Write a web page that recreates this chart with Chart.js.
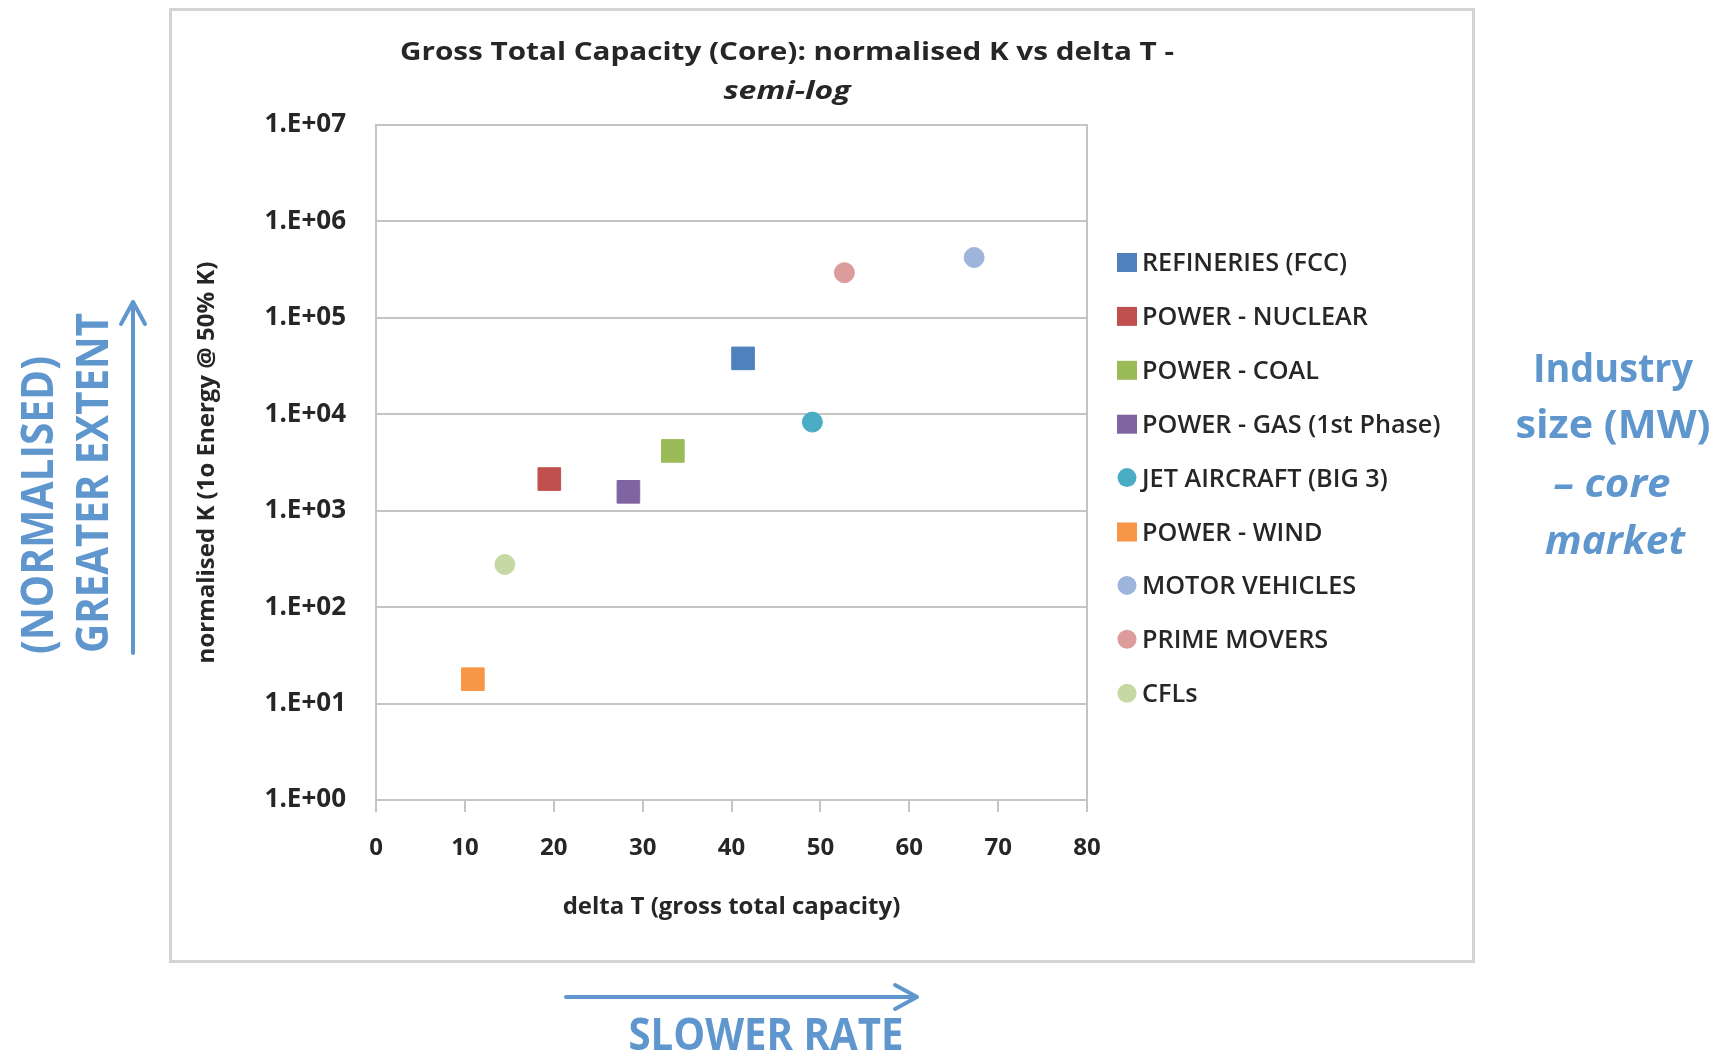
<!DOCTYPE html>
<html>
<head>
<meta charset="utf-8">
<title>Gross Total Capacity (Core): normalised K vs delta T - semi-log</title>
<script src="https://cdn.jsdelivr.net/npm/chart.js@4.4.1/dist/chart.umd.min.js"></script>
<style>
  html, body { margin: 0; padding: 0; background: #fff; }
  #chart-scatter { display: block; }
</style>
</head>
<body>
<canvas id="chart-scatter" width="1717" height="1053"></canvas>
<script>
// Chart data
const seriesNames = [
  "REFINERIES (FCC)",
  "POWER - NUCLEAR",
  "POWER - COAL",
  "POWER - GAS (1st Phase)",
  "JET AIRCRAFT (BIG 3)",
  "POWER - WIND",
  "MOTOR VEHICLES",
  "PRIME MOVERS",
  "CFLs",
];
const deltaT = [41.3, 19.5, 33.4, 28.4, 49.1, 10.9, 67.3, 52.7, 14.5];
const normK = [38000, 2130, 4170, 1570, 8300, 17.9, 423000, 294000, 277];
const markerShapes = ["rect", "rect", "rect", "rect", "circle", "rect", "circle", "circle", "circle"];
const markerColors = ["#4f81bd", "#c0504d", "#9bbb59", "#8064a2", "#4bacc6", "#f79646", "#9db5da", "#dc9c9b", "#c5d9a5"];

const yTickValues = [1, 10, 100, 1e3, 1e4, 1e5, 1e6, 1e7];
const yTickLabels = ["1.E+00", "1.E+01", "1.E+02", "1.E+03", "1.E+04", "1.E+05", "1.E+06", "1.E+07"];
const xTickValues = [0, 10, 20, 30, 40, 50, 60, 70, 80];
const xTickLabels = ["0", "10", "20", "30", "40", "50", "60", "70", "80"];

const FONT = "'Open Sans', 'DejaVu Sans', sans-serif";
const BLUE = "#5e96cd";
const TEXT = "#262626";
const GRID = "#c4c4c4";

// text squeezed to a given width (the original uses a narrow font)
function fitText(ctx, text, x, y, width, font, color, angle) {
  ctx.save();
  ctx.font = font;
  ctx.fillStyle = color;
  ctx.textAlign = "center";
  ctx.textBaseline = "alphabetic";
  ctx.translate(x, y);
  if (angle) ctx.rotate(angle);
  ctx.scale(width / ctx.measureText(text).width, 1);
  ctx.fillText(text, 0, 0);
  ctx.restore();
}

function arrow(ctx, x1, y1, x2, y2) {
  const a = Math.atan2(y2 - y1, x2 - x1);
  const head = 25;
  ctx.save();
  ctx.strokeStyle = BLUE;
  ctx.lineWidth = 4;
  ctx.lineCap = "round";
  ctx.lineJoin = "round";
  ctx.beginPath();
  ctx.moveTo(x1, y1);
  ctx.lineTo(x2, y2);
  ctx.moveTo(x2 - head * Math.cos(a - 0.5), y2 - head * Math.sin(a - 0.5));
  ctx.lineTo(x2, y2);
  ctx.lineTo(x2 - head * Math.cos(a + 0.5), y2 - head * Math.sin(a + 0.5));
  ctx.stroke();
  ctx.restore();
}

// frame, titles, notes and legend
const decorations = {
  id: "decorations",
  beforeDraw(chart) {
    const ctx = chart.ctx;
    ctx.save();
    ctx.strokeStyle = "#d4d4d4";
    ctx.lineWidth = 3;
    ctx.strokeRect(170.5, 9.5, 1303, 952);
    ctx.restore();
  },
  beforeDatasetsDraw(chart) {
    const { ctx, chartArea } = chart;
    ctx.save();
    ctx.strokeStyle = GRID;
    ctx.lineWidth = 2;
    ctx.strokeRect(chartArea.left, chartArea.top, chartArea.right - chartArea.left, chartArea.bottom - chartArea.top);
    ctx.restore();
  },
  afterDraw(chart) {
    const ctx = chart.ctx;

    // title
    fitText(ctx, "Gross Total Capacity (Core): normalised K vs delta T -", 787, 60, 774, "bold 25px " + FONT, TEXT);
    fitText(ctx, "semi-log", 787, 99, 127, "italic bold 25px " + FONT, TEXT);

    // legend
    ctx.save();
    ctx.font = "600 25px " + FONT;
    const sx = 205 / ctx.measureText(seriesNames[0]).width;
    chart.data.datasets.forEach((ds, i) => {
      const y = 262 + i * 53.9;
      ctx.fillStyle = ds.backgroundColor;
      ctx.beginPath();
      if (ds.pointStyle === "rect") {
        ctx.rect(1117, y - 9, 20, 19);
      } else {
        ctx.arc(1127, y, 9.5, 0, Math.PI * 2);
      }
      ctx.fill();
      ctx.save();
      ctx.fillStyle = TEXT;
      ctx.textBaseline = "alphabetic";
      ctx.translate(1142, y + 9);
      ctx.scale(sx, 1);
      ctx.fillText(ds.label, 0, 0);
      ctx.restore();
    });
    ctx.restore();

    // notes around the chart
    const noteBold = "bold 45px " + FONT;
    fitText(ctx, "(NORMALISED)", 53, 505, 298, noteBold, BLUE, -Math.PI / 2);
    fitText(ctx, "GREATER EXTENT", 108, 483, 340, noteBold, BLUE, -Math.PI / 2);
    arrow(ctx, 133, 653, 133, 302);

    fitText(ctx, "SLOWER RATE", 766, 1050, 275, noteBold, BLUE);
    arrow(ctx, 566, 997, 917, 997);

    fitText(ctx, "Industry", 1613, 382, 160, "bold 40px " + FONT, BLUE);
    fitText(ctx, "size (MW)", 1613, 438, 195, "bold 40px " + FONT, BLUE);
    fitText(ctx, "\u2013 core", 1612, 497, 117, "italic bold 40px " + FONT, BLUE);
    fitText(ctx, "market", 1615, 554, 140, "italic bold 40px " + FONT, BLUE);
  },
};

const DATASETS = seriesNames.map((name, i) => ({
  label: name,
  data: [{ x: deltaT[i], y: normK[i] }],
  pointStyle: markerShapes[i],
  pointRadius: markerShapes[i] === "rect" ? 16 : 10,
  backgroundColor: markerColors[i],
  borderColor: markerColors[i],
  borderWidth: 1,
}));

// Chart config
const CONFIG = {
  type: "scatter",
  data: { datasets: DATASETS },
  options: {
    responsive: false,
    animation: false,
    devicePixelRatio: 1,
    layout: {
      padding: { left: 190, top: 125, right: 630, bottom: 123 },
    },
    plugins: {
      legend: { display: false },
      title: { display: false },
      tooltip: { enabled: false },
    },
    scales: {
      x: {
        type: "linear",
        min: 0,
        max: 80,
        afterBuildTicks: (scale) => {
          scale.ticks = xTickValues.map((v) => ({ value: v }));
        },
        afterFit: (scale) => {
          scale.height = 130;
        },
        border: { display: true, color: GRID, width: 2 },
        grid: {
          display: true,
          drawOnChartArea: false,
          drawTicks: true,
          tickLength: 12,
          color: GRID,
          lineWidth: 2,
        },
        ticks: {
          padding: 22,
          color: TEXT,
          font: { family: FONT, size: 24, weight: "bold" },
          callback: (v) => xTickLabels[xTickValues.indexOf(v)],
        },
        title: {
          display: true,
          text: "delta T (gross total capacity)",
          color: TEXT,
          font: { family: FONT, size: 24, weight: "bold" },
          padding: { top: 0, bottom: 8 },
        },
      },
      y: {
        type: "logarithmic",
        min: 1,
        max: 1e7,
        afterBuildTicks: (scale) => {
          scale.ticks = yTickValues.map((v) => ({ value: v, major: true }));
        },
        afterFit: (scale) => {
          scale.width = 186;
        },
        border: { display: true, color: GRID, width: 2 },
        grid: {
          color: GRID,
          lineWidth: 2,
          drawTicks: false,
        },
        ticks: {
          padding: 30,
          color: TEXT,
          font: { family: FONT, size: 26, weight: "bold" },
          callback: (v) => yTickLabels[yTickValues.indexOf(v)],
        },
        title: {
          display: true,
          text: "normalised K (1o Energy @ 50% K)",
          color: TEXT,
          font: { family: FONT, size: 24, weight: "bold" },
          padding: { top: 3, bottom: 0 },
        },
      },
    },
  },
  plugins: [decorations],
};

// Init chart
const CHART_WRAPPER = document.getElementById("chart-scatter");
if (CHART_WRAPPER) {
  new Chart(CHART_WRAPPER, CONFIG);
}
</script>
</body>
</html>
